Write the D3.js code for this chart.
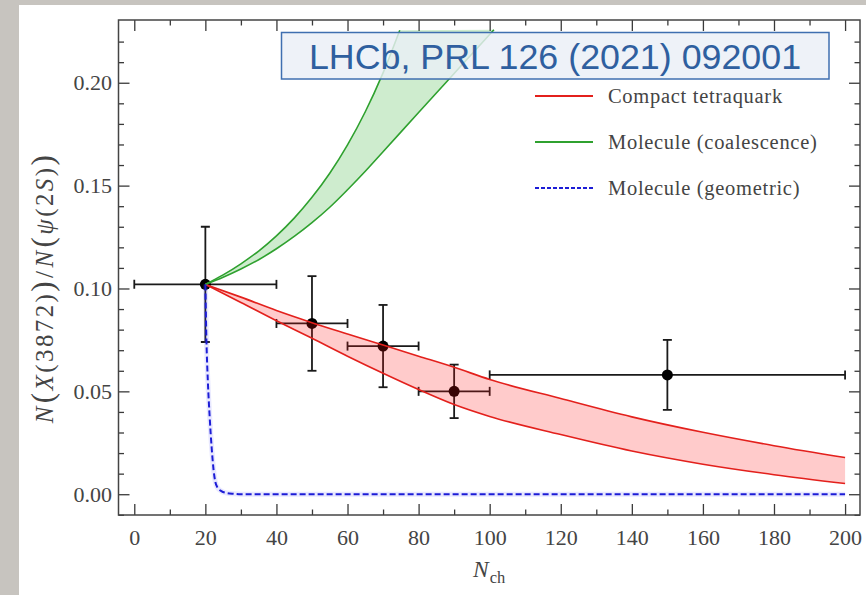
<!DOCTYPE html>
<html>
<head>
<meta charset="utf-8">
<script src="https://cdn.jsdelivr.net/npm/d3@7"></script>
<style>
    body { margin: 0; background: #c7c4bf; }
    svg { display: block; }
    .axis text { font-family: 'Liberation Serif', serif; font-size: 22px; fill: #444; }
    .legend-label { font-family: 'Liberation Serif', serif; font-size: 20.5px; fill: #444; letter-spacing: 0.7px; }
    .axis-title { font-family: 'Liberation Serif', serif; fill: #444; }
</style>
</head>
<body>
<svg id="chart"></svg>
<script>
// Measured ratio N(X(3872))/N(psi(2S)) vs N_ch
const pointN = [20, 50, 70, 90, 150];
const pointRatio = [0.102, 0.083, 0.072, 0.050, 0.058];
const pointNLow = [0, 40, 60, 80, 100];
const pointNHigh = [40, 60, 80, 100, 200];
const pointRatioLow = [0.074, 0.060, 0.052, 0.037, 0.041];
const pointRatioHigh = [0.130, 0.106, 0.092, 0.063, 0.075];

// Compact tetraquark band
const tetraN = [20, 30, 40, 50, 60, 70, 80, 90, 100, 120, 140, 160, 180, 200];
const tetraHigh = [0.102, 0.0958, 0.0893, 0.0834, 0.0779, 0.0725, 0.0671, 0.0617, 0.0558, 0.0465, 0.0376, 0.0301, 0.0236, 0.0178];
const tetraLow = [0.102, 0.0932, 0.0843, 0.0758, 0.0671, 0.0588, 0.0509, 0.0436, 0.0378, 0.0290, 0.0210, 0.0146, 0.0095, 0.0052];

// Molecule (coalescence) band, edges end where they leave the plot
const coalHighN = [20, 25, 30, 35, 40, 45, 50, 55, 60, 65, 70, 74.7];
const coalHigh = [0.102, 0.1066, 0.112, 0.1182, 0.1256, 0.1342, 0.1443, 0.156, 0.1698, 0.1859, 0.2048, 0.2255];
const coalLowN = [20, 25, 30, 35, 40, 45, 50, 55, 60, 65, 70, 75, 80, 85, 90, 95, 101.2];
const coalLow = [0.102, 0.1055, 0.1095, 0.114, 0.1193, 0.1253, 0.132, 0.1395, 0.148, 0.157, 0.1665, 0.176, 0.1855, 0.195, 0.2045, 0.214, 0.2258];

// Molecule (geometric) curve
const geoN = [20, 20.3, 20.7, 21.2, 21.8, 22.3, 22.8, 23.5, 24.5, 26, 28, 30, 200];
const geoRatio = [0.102, 0.075, 0.055, 0.038, 0.022, 0.012, 0.006, 0.003, 0.0015, 0.0006, 0.0002, 0, 0];

// Ticks and labels
const xTicks = [0, 20, 40, 60, 80, 100, 120, 140, 160, 180, 200];
const xMinorTicks = [10, 30, 50, 70, 90, 110, 130, 150, 170, 190];
const yTicks = [0, 0.05, 0.10, 0.15, 0.20];
const yMinorTicks = [-0.01, 0.01, 0.02, 0.03, 0.04, 0.06, 0.07, 0.08, 0.09, 0.11, 0.12, 0.13, 0.14, 0.16, 0.17, 0.18, 0.19, 0.21, 0.22];
const legendLabels = ['Compact tetraquark', 'Molecule (coalescence)', 'Molecule (geometric)'];
const sourceLabel = 'LHCb, PRL 126 (2021) 092001';

class RatioChart {
    constructor(_config) {
        this.config = {
            parentElement: _config.parentElement,
            containerWidth: _config.containerWidth || 866,
            containerHeight: _config.containerHeight || 595,
            margin: { top: 20, right: 6, bottom: 80, left: 118.5 }
        };
        this.initVis();
    }

    initVis() {
        let vis = this;

        vis.width = vis.config.containerWidth - vis.config.margin.left - vis.config.margin.right;
        vis.height = vis.config.containerHeight - vis.config.margin.top - vis.config.margin.bottom;

        vis.svg = d3.select(vis.config.parentElement)
            .attr('width', vis.config.containerWidth)
            .attr('height', vis.config.containerHeight);

        // white panel on the grey slide background
        vis.svg.append('rect')
            .attr('x', 19).attr('y', 5)
            .attr('width', vis.config.containerWidth - 19)
            .attr('height', vis.config.containerHeight - 5)
            .attr('fill', '#fff');

        vis.chart = vis.svg.append('g')
            .attr('transform', `translate(${vis.config.margin.left},${vis.config.margin.top})`);

        vis.chart.append('clipPath').attr('id', 'plot-clip')
            .append('rect')
            .attr('width', vis.width)
            .attr('height', vis.height);

        // Scales
        vis.xScale = d3.scaleLinear()
            .domain([-4.44, 204.2])
            .range([0, vis.width]);

        vis.yScale = d3.scaleLinear()
            .domain([-0.0101, 0.2305])
            .range([vis.height, 0]);

        vis.renderVis();
    }

    renderVis() {
        let vis = this;
        const x = vis.xScale, y = vis.yScale;

        // Axes: ticks pointing inward on all four sides
        const addAxis = (axis, transform, labelled) => {
            const g = vis.chart.append('g')
                .attr('class', 'axis')
                .attr('transform', transform)
                .attr('color', '#3a3a3a')
                .call(axis);
            g.select('.domain').remove();
            g.selectAll('.tick line').attr('stroke-width', 1.3);
            if (!labelled) g.selectAll('.tick text').remove();
            return g;
        };

        addAxis(d3.axisBottom(x).tickValues(xTicks).tickSize(-11).tickPadding(14.5).tickFormat(d3.format('d')),
            `translate(0,${vis.height})`, true);
        addAxis(d3.axisBottom(x).tickValues(xMinorTicks).tickSize(-5.5), `translate(0,${vis.height})`, false);
        addAxis(d3.axisTop(x).tickValues(xTicks).tickSize(-11), 'translate(0,0)', false);
        addAxis(d3.axisTop(x).tickValues(xMinorTicks).tickSize(-5.5), 'translate(0,0)', false);
        addAxis(d3.axisLeft(y).tickValues(yTicks).tickSize(-11).tickPadding(6.5).tickFormat(d3.format('.2f')),
            'translate(0,0)', true);
        addAxis(d3.axisLeft(y).tickValues(yMinorTicks).tickSize(-5.5), 'translate(0,0)', false);
        addAxis(d3.axisRight(y).tickValues(yTicks).tickSize(-11), `translate(${vis.width},0)`, false);
        addAxis(d3.axisRight(y).tickValues(yMinorTicks).tickSize(-5.5), `translate(${vis.width},0)`, false);

        const plot = vis.chart.append('g').attr('clip-path', 'url(#plot-clip)');

        // Data points with error bars (drawn first so the bands tint them)
        const points = pointN.map((n, i) => ({
            n: n, r: pointRatio[i],
            nLo: pointNLow[i], nHi: pointNHigh[i],
            rLo: pointRatioLow[i], rHi: pointRatioHigh[i]
        }));
        const bars = plot.append('g')
            .attr('stroke', '#1a1a1a')
            .attr('stroke-width', 1.8);
        const cap = 4.5;
        points.forEach(d => {
            bars.append('line')
                .attr('x1', x(d.nLo)).attr('x2', x(d.nHi))
                .attr('y1', y(d.r)).attr('y2', y(d.r));
            bars.append('line')
                .attr('x1', x(d.n)).attr('x2', x(d.n))
                .attr('y1', y(d.rLo)).attr('y2', y(d.rHi));
            [d.nLo, d.nHi].forEach(v => bars.append('line')
                .attr('x1', x(v)).attr('x2', x(v))
                .attr('y1', y(d.r) - cap).attr('y2', y(d.r) + cap));
            [d.rLo, d.rHi].forEach(v => bars.append('line')
                .attr('x1', x(d.n) - cap).attr('x2', x(d.n) + cap)
                .attr('y1', y(v)).attr('y2', y(v)));
        });
        plot.append('g').selectAll('circle')
            .data(points)
            .join('circle')
                .attr('cx', d => x(d.n))
                .attr('cy', d => y(d.r))
                .attr('r', 5.5)
                .attr('fill', '#000');

        // Compact tetraquark band
        const tetra = tetraN.map((n, i) => ({ n: n, lo: tetraLow[i], hi: tetraHigh[i] }));
        plot.append('path')
            .datum(tetra)
            .attr('fill', 'rgba(255,20,20,0.22)')
            .attr('d', d3.area()
                .x(d => x(d.n)).y0(d => y(d.lo)).y1(d => y(d.hi))
                .curve(d3.curveMonotoneX));
        ['lo', 'hi'].forEach(k => plot.append('path')
            .datum(tetra)
            .attr('fill', 'none')
            .attr('stroke', '#e3201c')
            .attr('stroke-width', 1.6)
            .attr('d', d3.line().x(d => x(d.n)).y(d => y(d[k])).curve(d3.curveMonotoneX)));

        // Molecule (coalescence) band
        const coalHighPts = coalHighN.map((n, i) => [x(n), y(coalHigh[i])]);
        const coalLowPts = coalLowN.map((n, i) => [x(n), y(coalLow[i])]);
        const edge = d3.line().curve(d3.curveCatmullRom);
        plot.append('path')
            .attr('fill', 'rgba(30,170,30,0.22)')
            .attr('d', edge(coalHighPts) + edge(coalLowPts.slice().reverse()).replace(/^M/, 'L') + 'Z');
        [coalHighPts, coalLowPts].forEach(pts => plot.append('path')
            .attr('fill', 'none')
            .attr('stroke', '#2fa12f')
            .attr('stroke-width', 1.6)
            .attr('d', edge(pts)));

        // Molecule (geometric) curve with its faint band
        const geo = geoN.map((n, i) => ({ n: n, r: geoRatio[i] }));
        const geoLine = d3.line().x(d => x(d.n)).y(d => y(d.r)).curve(d3.curveMonotoneX);
        plot.append('path')
            .datum(geo)
            .attr('fill', 'none')
            .attr('stroke', 'rgba(90,90,255,0.14)')
            .attr('stroke-width', 5)
            .attr('d', geoLine);
        plot.append('path')
            .datum(geo)
            .attr('fill', 'none')
            .attr('stroke', '#1c1cd6')
            .attr('stroke-width', 2)
            .attr('stroke-dasharray', '6,3')
            .attr('d', geoLine);

        // Frame
        vis.chart.append('rect')
            .attr('width', vis.width)
            .attr('height', vis.height)
            .attr('fill', 'none')
            .attr('stroke', '#444')
            .attr('stroke-width', 1.5);

        // Legend
        const legendStyles = [
            { stroke: '#e3201c', dash: null },
            { stroke: '#2fa12f', dash: null },
            { stroke: '#1c1cd6', dash: '4,2' }
        ];
        const legend = vis.svg.append('g').attr('transform', 'translate(535,96)');
        legendLabels.forEach((label, i) => {
            const row = legend.append('g').attr('transform', `translate(0,${i * 46})`);
            row.append('line')
                .attr('x1', 0).attr('x2', 58)
                .attr('stroke', legendStyles[i].stroke)
                .attr('stroke-width', 2)
                .attr('stroke-dasharray', legendStyles[i].dash);
            row.append('text')
                .attr('class', 'legend-label')
                .attr('x', 73)
                .attr('y', 7)
                .text(label);
        });

        // Source box
        vis.svg.append('rect')
            .attr('x', 281.5).attr('y', 32.5)
            .attr('width', 547.5).attr('height', 46.5)
            .attr('fill', 'rgba(234,239,247,0.82)')
            .attr('stroke', '#3f6fb0')
            .attr('stroke-width', 1.5);
        vis.svg.append('text')
            .attr('x', 555).attr('y', 69)
            .attr('text-anchor', 'middle')
            .attr('font-family', "'Liberation Sans', Arial, sans-serif")
            .attr('font-size', 35.8)
            .attr('fill', '#2f5f9f')
            .text(sourceLabel);

        // Axis titles
        const xTitle = vis.svg.append('text')
            .attr('class', 'axis-title')
            .attr('x', 473).attr('y', 577)
            .attr('font-size', 23.5);
        xTitle.append('tspan').attr('font-style', 'italic').text('N');
        xTitle.append('tspan').attr('font-size', 16.5).attr('dx', 1).attr('dy', 6).text('ch');

        const yTitle = vis.svg.append('text')
            .attr('class', 'axis-title')
            .attr('transform', 'translate(53,288) rotate(-90)')
            .attr('text-anchor', 'middle')
            .attr('font-size', 25)
            .attr('letter-spacing', 2.4);
        // [text, style, size, space before]
        const parts = [
            ['N', 'italic', 25, 0], ['(', 'normal', 31, 1], ['X', 'italic', 25, 0], ['(3872)', 'normal', 25, 0], [')', 'normal', 31, 0],
            ['/', 'normal', 25, 1],
            ['N', 'italic', 25, 1], ['(', 'normal', 31, 1], ['\u03C8', 'italic', 25, 0], ['(2', 'normal', 25, 0], ['S', 'italic', 25, 0],
            [')', 'normal', 25, 0], [')', 'normal', 31, 0]
        ];
        parts.forEach(p => yTitle.append('tspan')
            .attr('font-style', p[1])
            .attr('font-size', p[2])
            .attr('dx', p[3])
            .text(p[0]));
    }
}

const chart = new RatioChart({ parentElement: '#chart' });
</script>
</body>
</html>
